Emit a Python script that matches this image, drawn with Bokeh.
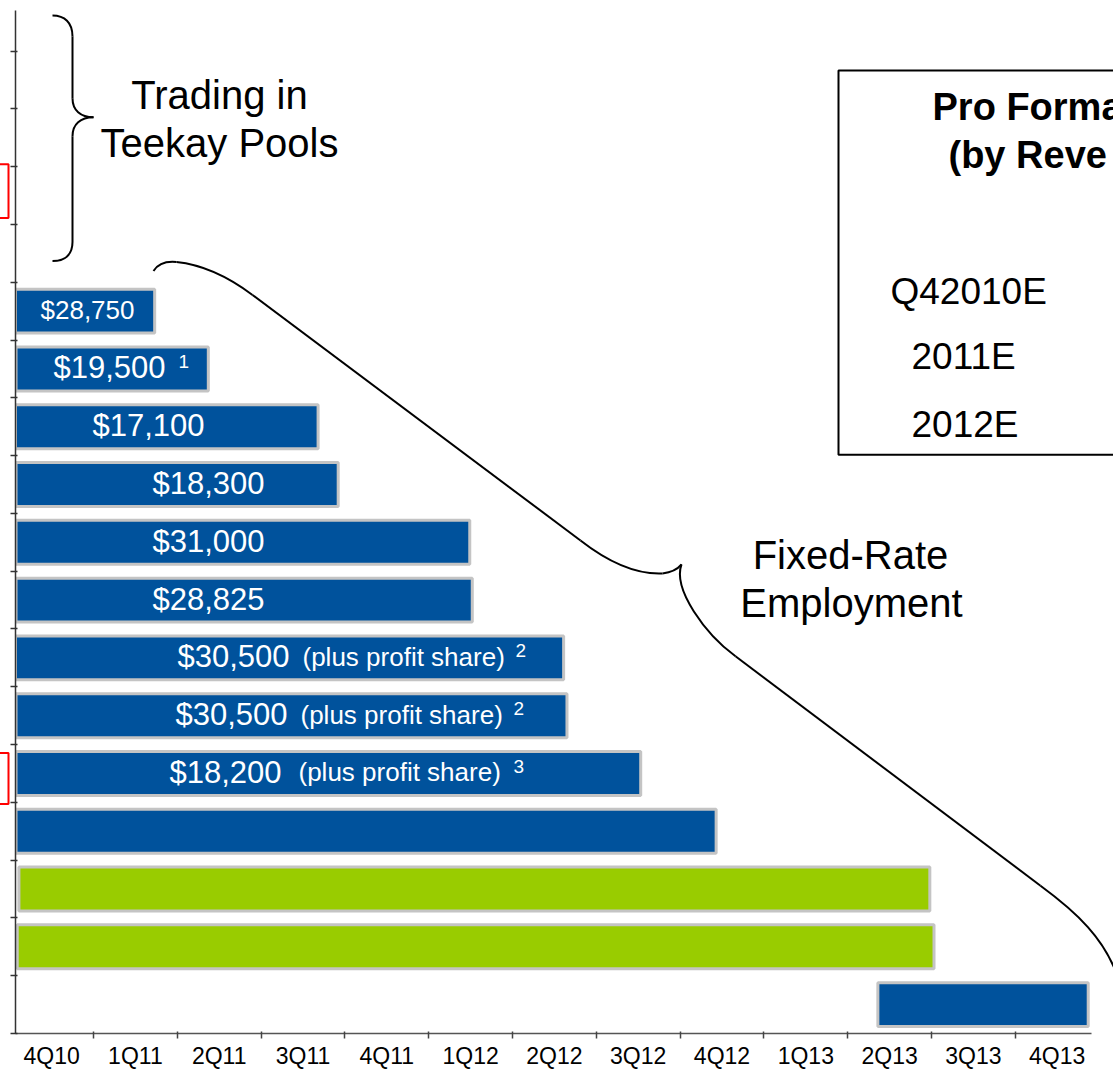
from bokeh.plotting import figure
from bokeh.models import Range1d, FixedTicker, CustomJSTickFormatter, ColumnDataSource, LinearAxis
from bokeh.core.properties import value
from bokeh.embed import file_html
from bokeh.resources import INLINE

# ---------------- data ----------------
quarters = ["4Q10", "1Q11", "2Q11", "3Q11", "4Q11", "1Q12", "2Q12",
            "3Q12", "4Q12", "1Q13", "2Q13", "3Q13", "4Q13"]

# fixed-rate employment, one row per vessel, top to bottom
charter_rates = ["$28,750", "$19,500", "$17,100", "$18,300", "$31,000", "$28,825",
                 "$30,500", "$30,500", "$18,200", "", "", "", ""]
rate_notes = ["", "", "", "", "", "", "(plus profit share)", "(plus profit share)",
              "(plus profit share)", "", "", "", ""]
footnotes = ["", "1", "", "", "", "", "2", "2", "3", "", "", "", ""]
# charter periods in quarters, counted from the start of 4Q10
charter_start = [0.04, 0.075, 0.05, 0.075, 0.075, 0.075, 0.05, 0.075, 0.075, 0.075, 0.11, 0.09, 10.36]
charter_end = [1.73, 2.37, 3.68, 3.92, 5.49, 5.52, 6.61, 6.65, 7.53, 8.43, 10.98, 11.03, 12.87]
charter_kind = ["fixed"] * 10 + ["other", "other", "fixed"]
pool_rows = 4          # vessels trading in Teekay pools (no fixed employment)

pro_forma_periods = ["Q42010E", "2011E", "2012E"]

# ---------------- layout helpers (pixel geometry of the slide) ----------------
W, H = 1113, 1071
PX_X1, PX_PER_Q = 93.0, 83.8          # pixel column of the 1Q11 tick, pixels per quarter
PX_Y0, PX_PER_ROW = 1035.0, 57.9      # pixel row of the time axis, pixels per vessel row
FRAME_L, FRAME_R, FRAME_T, FRAME_B = 15, 1091, 10, 1035


def X(px):
    return 1 + (px - PX_X1) / PX_PER_Q


def Y(py):
    return (PX_Y0 - py) / PX_PER_ROW


FONT = value("Liberation Sans")
BLUE, GREEN, EDGE = "#00529C", "#99CC00", "#C4C4C4"

p = figure(width=W, height=H, output_backend="svg", toolbar_location=None,
           x_range=Range1d(X(FRAME_L), X(FRAME_R)), y_range=Range1d(Y(FRAME_B), Y(FRAME_T)),
           x_axis_type=None, y_axis_type=None,
           min_border_left=FRAME_L, min_border_right=W - FRAME_R,
           min_border_top=FRAME_T, min_border_bottom=H - FRAME_B)
p.outline_line_color = None
p.background_fill_color = "white"
p.border_fill_color = "white"

# ---------------- axes ----------------
xaxis = LinearAxis(
    ticker=FixedTicker(ticks=[k + 0.5 for k in range(len(quarters))],
                       minor_ticks=list(range(1, len(quarters)))),
    formatter=CustomJSTickFormatter(args=dict(labels=quarters), code="""
        const i = Math.round(tick - 0.5);
        return (i >= 0 && i < labels.length) ? labels[i] : '';
    """))
xaxis.major_tick_in = 0
xaxis.major_tick_out = 0
xaxis.minor_tick_in = 2
xaxis.minor_tick_out = 5
xaxis.minor_tick_line_color = "#444444"
xaxis.minor_tick_line_width = 1.5
xaxis.axis_line_color = "#555555"
xaxis.axis_line_width = 1.5
xaxis.major_label_text_font = "Liberation Sans"
xaxis.major_label_text_font_size = "23px"
xaxis.major_label_text_color = "black"
xaxis.major_label_standoff = 4
p.add_layout(xaxis, "below")

n_rows = len(charter_rates)
yaxis = LinearAxis(ticker=FixedTicker(ticks=list(range(n_rows + pool_rows + 1))),
                   formatter=CustomJSTickFormatter(code="return '';"))
yaxis.major_tick_in = 2
yaxis.major_tick_out = 5
yaxis.minor_tick_in = 0
yaxis.minor_tick_out = 0
yaxis.major_tick_line_color = "#333333"
yaxis.major_tick_line_width = 1.5
yaxis.axis_line_color = "#333333"
yaxis.axis_line_width = 1.5
yaxis.major_label_standoff = 0
yaxis.major_label_text_font_size = "1px"
p.add_layout(yaxis, "left")

# ---------------- bars ----------------
row_y = [n_rows - 1 - i + 0.5 for i in range(n_rows)]
colors = [BLUE if k == "fixed" else GREEN for k in charter_kind]
src = ColumnDataSource(dict(y=row_y, left=charter_start, right=charter_end, color=colors))
p.hbar(y="y", left="left", right="right", height=0.76, fill_color="color",
       line_color=EDGE, line_width=3, source=src)

# ---------------- bar texts ----------------
rate_left_px = [40, 53, 92, 152, 152, 152, 177, 175, 169]
rate_size = ["26px", "31px", "31px", "31px", "31px", "31px", "31px", "31px", "31px"]
note_left_px = [None, None, None, None, None, None, 302, 300, 298]
foot_left_px = [None, 178, None, None, None, None, 515, 513, 513]

for i, t in enumerate(charter_rates):
    if not t:
        continue
    p.text(x=[X(rate_left_px[i])], y=[row_y[i]], text=[t], text_font=FONT,
           text_font_size=rate_size[i], text_color="white", text_align="left",
           text_baseline="middle", y_offset=-1, level="overlay")
    if rate_notes[i]:
        p.text(x=[X(note_left_px[i])], y=[row_y[i]], text=[rate_notes[i]], text_font=FONT,
               text_font_size="26px", text_color="white", text_align="left",
               text_baseline="middle", y_offset=-1, level="overlay")
    if footnotes[i]:
        p.text(x=[X(foot_left_px[i])], y=[row_y[i]], text=[footnotes[i]], text_font=FONT,
               text_font_size="19px", text_color="white", text_align="left",
               text_baseline="middle", y_offset=-7, level="overlay")

# ---------------- braces ----------------
def draw_path(beziers, lines):
    p.bezier(x0=[X(b[0][0]) for b in beziers], y0=[Y(b[0][1]) for b in beziers],
             cx0=[X(b[1][0]) for b in beziers], cy0=[Y(b[1][1]) for b in beziers],
             cx1=[X(b[2][0]) for b in beziers], cy1=[Y(b[2][1]) for b in beziers],
             x1=[X(b[3][0]) for b in beziers], y1=[Y(b[3][1]) for b in beziers],
             line_color="black", line_width=2, level="overlay")
    p.segment(x0=[X(s[0][0]) for s in lines], y0=[Y(s[0][1]) for s in lines],
              x1=[X(s[1][0]) for s in lines], y1=[Y(s[1][1]) for s in lines],
              line_color="black", line_width=2, level="overlay")


draw_path(
    [((52, 15), (64, 15), (72, 22), (72, 36)),
     ((72, 98), (72, 110), (80, 117), (93, 117)),
     ((93, 117), (80, 117), (72, 124), (72, 136)),
     ((72, 242), (72, 255), (64, 261), (52, 261))],
    [((72, 36), (72, 98)), ((72, 136), (72, 242))])

draw_path(
    [((153, 271), (158, 263), (166, 261), (176, 262)),
     ((176, 262), (205, 265), (232, 280), (252, 295)),
     ((580, 541), (612, 566), (640, 575), (662, 574)),
     ((662, 574), (671, 573), (677, 570), (681, 565)),
     ((681, 565), (672, 590), (705, 635), (735, 657)),
     ((1040, 887), (1078, 915), (1103, 940), (1116, 975))],
    [((252, 295), (580, 541)), ((735, 657), (1040, 887))])

# ---------------- annotation texts (y = vertical centre of the line) ----------------
def txt(px, py, s, size, align="left", style="normal"):
    p.text(x=[X(px)], y=[Y(py)], text=[s], text_font=FONT, text_font_size=size,
           text_color="black", text_align=align, text_baseline="middle",
           text_font_style=style, level="overlay")


txt(219, 95, "Trading in", "40px", "center")
txt(219, 143, "Teekay Pools", "40px", "center")
txt(850, 556, "Fixed-Rate", "40px", "center")
txt(851, 604, "Employment", "40px", "center")

# pro forma box (cut by the right edge of the slide)
p.quad(left=[X(838)], right=[X(1140)], top=[Y(70)], bottom=[Y(455)], fill_color=None,
       line_color="black", line_width=2, level="overlay")
txt(932, 107, "Pro Forma", "38px", style="bold")
txt(948, 155, "(by Reve", "38px", style="bold")
for (px, py), s in zip([(890, 292), (911, 357), (911, 425)], pro_forma_periods):
    txt(px, py, s, "37px")

# red highlight boxes at the left edge
p.quad(left=[X(-12), X(-12)], right=[X(8), X(8)], top=[Y(164), Y(754)], bottom=[Y(218), Y(805)],
       fill_color=None, line_color="#FF0000", line_width=2, level="overlay")

open("out.html", "w").write(file_html(p, INLINE))
